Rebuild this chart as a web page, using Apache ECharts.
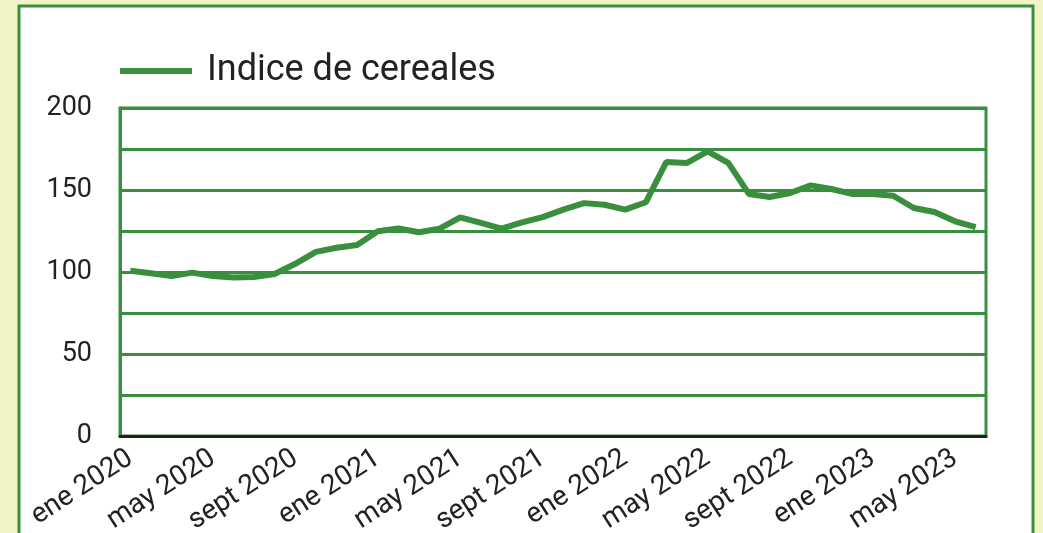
<!DOCTYPE html>
<html>
<head>
<meta charset="utf-8">
<script src="https://cdn.jsdelivr.net/npm/echarts@6/dist/echarts.min.js"></script>
<style>
  html, body { margin: 0; padding: 0; background: #f2f4c6; }
  #chart { width: 1043px; height: 533px; }
</style>
</head>
<body>
<div id="chart"></div>
<script>
// Monthly cereal price index, January 2020 to June 2023
const months = [
  'ene 2020','feb 2020','mar 2020','abr 2020','may 2020','jun 2020','jul 2020','ago 2020','sept 2020','oct 2020','nov 2020','dic 2020',
  'ene 2021','feb 2021','mar 2021','abr 2021','may 2021','jun 2021','jul 2021','ago 2021','sept 2021','oct 2021','nov 2021','dic 2021',
  'ene 2022','feb 2022','mar 2022','abr 2022','may 2022','jun 2022','jul 2022','ago 2022','sept 2022','oct 2022','nov 2022','dic 2022',
  'ene 2023','feb 2023','mar 2023','abr 2023','may 2023','jun 2023'
];
const cerealIndex = [
  100.8, 99.2, 97.5, 99.6, 97.5, 96.7, 96.9, 98.8, 105.0, 112.3, 114.8, 116.5,
  124.8, 126.5, 124.2, 126.4, 133.3, 129.9, 126.4, 130.3, 133.5, 138.0, 142.0, 141.0,
  138.0, 142.5, 167.1, 166.5, 173.6, 166.5, 147.6, 145.7, 148.2, 152.8, 150.6, 147.6,
  147.6, 146.5, 139.0, 136.6, 130.9, 127.4
];
const seriesName = 'Indice de cereales';

const green = '#3a8f3e';
const textColor = '#222222';
const font = 'Roboto, "Liberation Sans", sans-serif';

const chart = echarts.init(document.getElementById('chart'), null, { renderer: 'canvas' });
chart.setOption({
  backgroundColor: '#f2f4c6',
  animation: false,
  graphic: [{
    type: 'rect',
    z: -10,
    shape: { x: 19, y: 6, width: 1014, height: 560 },
    style: { fill: '#ffffff', stroke: green, lineWidth: 3 }
  }],
  legend: {
    left: 120,
    top: 53,
    padding: 0,
    icon: 'rect',
    itemWidth: 72,
    itemHeight: 6,
    textStyle: { fontFamily: font, fontSize: 36, color: textColor, padding: [0, 0, 0, 10] },
    data: [seriesName]
  },
  grid: {
    left: 120, right: 57, top: 108, bottom: 97,
    containLabel: false,
    outerBoundsMode: 'none',
    show: true, borderColor: green, borderWidth: 3, backgroundColor: 'transparent'
  },
  xAxis: {
    type: 'category',
    data: months,
    boundaryGap: true,
    axisLine: { lineStyle: { color: '#222222', width: 3 } },
    axisTick: { show: false },
    axisLabel: {
      interval: 3,
      rotate: 33,
      margin: 20,
      fontFamily: font,
      fontSize: 28,
      color: textColor
    }
  },
  yAxis: {
    type: 'value',
    min: 0, max: 200, interval: 25,
    axisLine: { show: true, lineStyle: { color: green, width: 3 } },
    axisTick: { show: false },
    splitLine: { lineStyle: { color: green, width: 3 } },
    axisLabel: {
      margin: 28,
      fontFamily: font,
      fontSize: 27,
      color: textColor,
      formatter: v => (v % 50 === 0 ? String(v) : '')
    }
  },
  series: [{
    name: seriesName,
    type: 'line',
    data: cerealIndex,
    symbol: 'none',
    lineStyle: { color: green, width: 6 },
    itemStyle: { color: green }
  }]
});
</script>
</body>
</html>
